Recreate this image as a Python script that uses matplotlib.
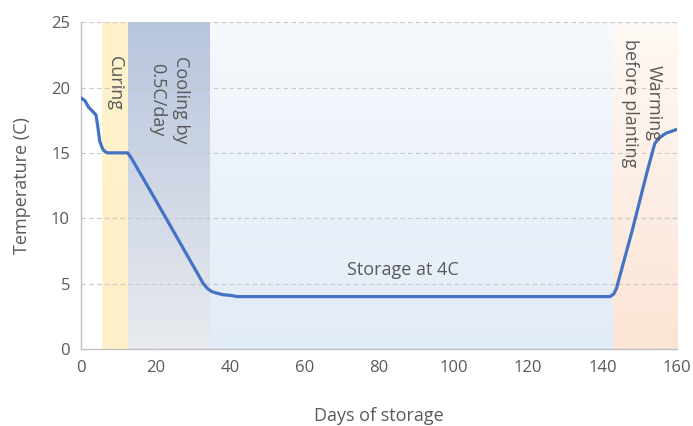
import numpy as np
import matplotlib.pyplot as plt
from matplotlib.colors import LinearSegmentedColormap

plt.rcParams['font.family'] = ['Open Sans', 'DejaVu Sans']

# Temperature profile over storage time
days = [0, 1, 2, 3, 4, 4.5, 5, 5.5, 6, 7, 8, 10, 12.5, 13.5, 20, 25, 30, 32.8,
        34, 35, 36, 38, 40, 42, 60, 80, 100, 120, 140, 142, 143, 143.7,
        148, 152, 154, 155, 157, 160]
temps = [19.2, 19.0, 18.5, 18.2, 17.9, 17.0, 15.9, 15.5, 15.2, 15.0, 15.0, 15.0, 15.0, 14.6, 11.4, 8.9, 6.4, 5.0,
         4.6, 4.4, 4.3, 4.15, 4.1, 4.0, 4.0, 4.0, 4.0, 4.0, 4.0, 4.0, 4.2, 4.6,
         9.1, 13.6, 15.7, 16.1, 16.5, 16.8]

# Phases: start, end, label, top colour, bottom colour
phase_start = [5.6, 12.6, 34.6, 142.7]
phase_end = [12.6, 34.6, 142.7, 160]
phase_label = ['Curing', 'Cooling by\n0.5C/day', 'Storage at 4C', 'Warming\nbefore planting']
phase_top = ['#FFF2CB', '#B7C5DD', '#F6F9FD', '#FFF9F5']
phase_bottom = ['#FFF0C9', '#E8EAEE', '#E2ECF7', '#FBE4D5']

fig, ax = plt.subplots(figsize=(6.93, 4.26), dpi=100)
fig.subplots_adjust(left=0.117, right=0.977, bottom=0.181, top=0.948)

grad = np.linspace(0, 1, 256).reshape(-1, 1)
for x0, x1, c0, c1 in zip(phase_start, phase_end, phase_top, phase_bottom):
    cmap = LinearSegmentedColormap.from_list('band', [c0, c1])
    ax.imshow(grad, cmap=cmap, aspect='auto', extent=(x0, x1, 0, 25),
              origin='upper', zorder=0)

for y in [5, 10, 15, 20, 25]:
    ax.axhline(y, color='#C8C8C8', lw=0.8, ls=(0, (4, 3)), zorder=1)

ax.plot(days, temps, color='#4472C4', lw=2.3, zorder=3)

txt = dict(color='#595959', fontsize=13, zorder=4)
ax.text(9.1, 22.4, phase_label[0], rotation=-90, ha='center', va='top', **txt)
ax.text(23.6, 22.4, phase_label[1], rotation=-90, ha='center', va='top',
        linespacing=1.4, **txt)
ax.text(86.4, 6.0, phase_label[2], ha='center', va='center', **txt)
ax.text(150.5, 23.7, phase_label[3], rotation=-90, ha='center', va='top',
        linespacing=1.4, **txt)

ax.set_xlim(0, 160)
ax.set_ylim(0, 25)
ax.set_xticks(range(0, 161, 20))
ax.set_yticks(range(0, 26, 5))
ax.tick_params(length=0, labelsize=12, labelcolor='#595959', pad=8)
for side in ['top', 'right']:
    ax.spines[side].set_visible(False)
for side in ['left', 'bottom']:
    ax.spines[side].set_color('#BFBFBF')
    ax.spines[side].set_linewidth(1)

ax.set_xlabel('Days of storage', fontsize=13, color='#595959', labelpad=22)
ax.set_ylabel('Temperature (C)', fontsize=13, color='#595959', labelpad=14)

fig.savefig('out.png', dpi=100)
